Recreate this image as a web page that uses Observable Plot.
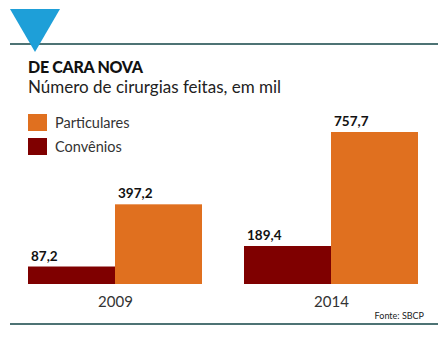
<!DOCTYPE html>
<html>
<head>
<meta charset="utf-8">
<script src="https://cdn.jsdelivr.net/npm/d3@7"></script>
<script src="https://cdn.jsdelivr.net/npm/@observablehq/plot@0.6"></script>
<style>
  html, body { margin: 0; padding: 0; background: #fff; }
  #wrap { position: relative; width: 447px; height: 338px; overflow: hidden; background: #fff; font-family: Lato, "Noto Sans", sans-serif; }
  .rule { position: absolute; left: 10px; width: 428px; height: 2px; background: #4d7374; }
  #tri { position: absolute; left: 10px; top: 9px; width: 0; height: 0;
         border-left: 25.5px solid transparent; border-right: 25.5px solid transparent; border-top: 43px solid #1e9fd8; z-index: 2; }
  #title { position: absolute; left: 28px; top: 57px; font-size: 16px; font-weight: 900; color: #111; letter-spacing: -0.3px; white-space: nowrap; }
  #subtitle { position: absolute; left: 28px; top: 76px; font-size: 17px; color: #222; white-space: nowrap; }
  #legend { position: absolute; left: 28px; top: 114px; z-index: 3; }
  .item { display: flex; align-items: center; height: 17px; margin-bottom: 7px; font-size: 14.5px; color: #333; }
  .sw { width: 19px; height: 17px; margin-right: 8px; }
  #source { position: absolute; right: 23px; top: 310px; font-size: 9px; color: #222; white-space: nowrap; }
  #chart { position: absolute; left: 0; top: 0; }
</style>
</head>
<body>
<div id="wrap">
  <div class="rule" style="top:43px"></div>
  <div id="tri"></div>
  <div id="title">DE CARA NOVA</div>
  <div id="subtitle">Número de cirurgias feitas, em mil</div>
  <div id="legend"></div>
  <div id="chart"></div>
  <div id="source">Fonte: SBCP</div>
  <div class="rule" style="top:323px"></div>
</div>
<script>
const years = ["2009", "2014"];
const series = ["Convênios", "Particulares"];
const legendOrder = ["Particulares", "Convênios"];
const colors = ["#7f0000", "#e0701f"];
const convenios = [87.2, 189.4];
const particulares = [397.2, 757.7];
const valueLabels = { "Convênios": ["87,2", "189,4"], "Particulares": ["397,2", "757,7"] };

const data = [];
years.forEach((y, i) => {
  data.push({ year: y, series: "Convênios", value: convenios[i], label: valueLabels["Convênios"][i] });
  data.push({ year: y, series: "Particulares", value: particulares[i], label: valueLabels["Particulares"][i] });
});

const colorOf = Object.fromEntries(series.map((s, i) => [s, colors[i]]));
const legend = document.getElementById("legend");
legendOrder.forEach(s => {
  const it = document.createElement("div");
  it.className = "item";
  const sw = document.createElement("div");
  sw.className = "sw";
  sw.style.background = colorOf[s];
  const t = document.createElement("span");
  t.textContent = s;
  it.appendChild(sw); it.appendChild(t);
  legend.appendChild(it);
});

const chart = Plot.plot({
  width: 447,
  height: 338,
  marginLeft: 27,
  marginRight: 28,
  marginTop: 132,
  marginBottom: 54,
  style: { fontFamily: "Lato, 'Noto Sans', sans-serif", background: "transparent", overflow: "visible" },
  fx: { domain: years, paddingInner: 0.1935, paddingOuter: 0, label: null, axis: null },
  x: { domain: series, padding: 0, axis: null },
  y: { domain: [0, 757.7], axis: null },
  color: { domain: series, range: colors },
  marks: [
    Plot.barY(data, { fx: "year", x: "series", y: "value", fill: "series" }),
    Plot.text(data, { fx: "year", x: "series", y: "value", text: "label", textAnchor: "start", lineAnchor: "bottom", dx: -41, dy: -6.5, fontSize: 13.5, fontWeight: "bold", fill: "#111" }),
    Plot.axisFx({ anchor: "bottom", tickSize: 0, tickPadding: 12, fontSize: 15, label: null, color: "#333" })
  ]
});
document.getElementById("chart").appendChild(chart);
</script>
</body>
</html>
